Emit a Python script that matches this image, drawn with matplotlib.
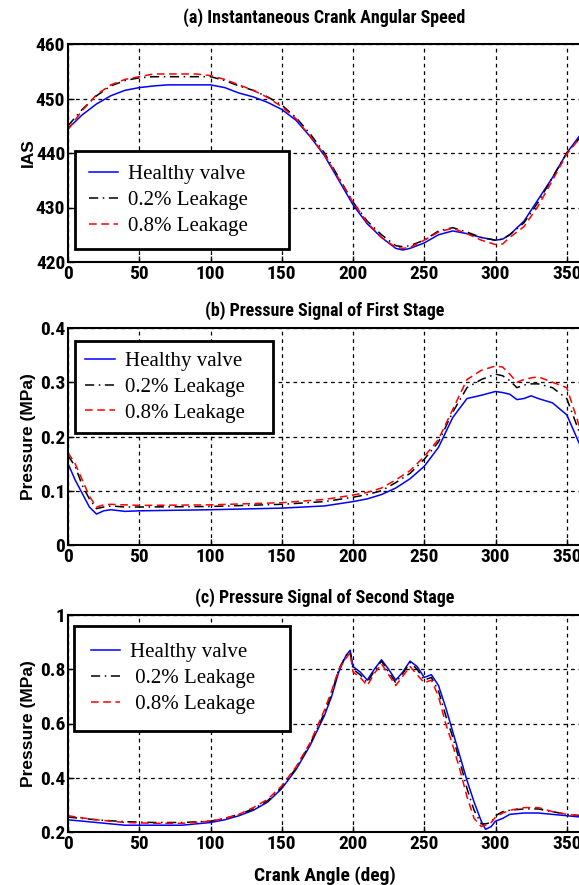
"""Crank IAS and cylinder pressure traces: healthy valve vs leakage."""

import matplotlib.pyplot as plt
from matplotlib import font_manager

# ---- data -----------------------------------------------------------------
ias_angle = [0, 10, 20, 30, 40, 50, 60, 70, 80, 90, 100, 110, 120, 130, 140,
             150, 160, 170, 180, 190, 200, 210, 220, 230, 235, 240, 250, 260,
             270, 280, 290, 300, 305, 310, 320, 330, 340, 350, 360]
ias_healthy = [444.5, 447.0, 449.0, 450.5, 451.5, 452.0, 452.3, 452.5, 452.5,
               452.5, 452.5, 452.0, 451.0, 450.3, 449.3, 448.0, 446.0, 443.0,
               439.5, 435.0, 430.5, 427.0, 424.5, 422.5, 422.2, 422.5, 423.5,
               425.0, 425.7, 425.2, 424.5, 424.0, 424.2, 425.0, 427.5, 431.5,
               435.5, 440.0, 443.5]
ias_leak02 = [445.0, 448.0, 450.5, 452.3, 453.3, 453.8, 454.0, 454.0, 454.0,
              454.0, 454.0, 453.3, 452.3, 451.5, 450.3, 448.8, 446.5, 443.5,
              440.0, 435.5, 431.0, 427.5, 425.0, 423.0, 422.8, 423.0, 424.0,
              425.7, 426.3, 425.5, 424.5, 424.0, 424.2, 425.0, 427.2, 431.0,
              435.5, 440.0, 443.0]
ias_leak08 = [444.3, 447.8, 450.7, 452.5, 453.5, 454.0, 454.5, 454.5, 454.5,
              454.5, 454.2, 453.5, 452.5, 451.5, 450.2, 448.5, 446.3, 443.0,
              439.7, 435.3, 431.0, 427.2, 424.5, 422.7, 422.5, 422.7, 424.0,
              425.5, 426.2, 425.2, 424.0, 423.2, 423.3, 424.5, 426.5, 430.3,
              435.0, 439.8, 443.0]

p1_angle = [0, 5, 10, 15, 20, 25, 30, 40, 50, 100, 150, 180, 200, 210, 220,
            230, 240, 250, 260, 270, 280, 290, 300, 305, 310, 315, 320, 325,
            330, 340, 350, 355, 360]
p1_healthy = [0.150, 0.120, 0.095, 0.070, 0.057, 0.063, 0.065, 0.062, 0.063,
              0.065, 0.068, 0.072, 0.080, 0.085, 0.093, 0.105, 0.122, 0.145,
              0.180, 0.235, 0.270, 0.276, 0.283, 0.281, 0.278, 0.268, 0.270,
              0.275, 0.270, 0.262, 0.240, 0.210, 0.180]
p1_leak02 = [0.165, 0.145, 0.110, 0.085, 0.067, 0.070, 0.072, 0.070, 0.070,
             0.071, 0.075, 0.080, 0.088, 0.093, 0.100, 0.115, 0.132, 0.158,
             0.190, 0.245, 0.290, 0.305, 0.315, 0.312, 0.303, 0.290, 0.295,
             0.297, 0.297, 0.290, 0.270, 0.235, 0.200]
p1_leak08 = [0.170, 0.150, 0.120, 0.090, 0.070, 0.074, 0.075, 0.074, 0.073,
             0.074, 0.078, 0.084, 0.092, 0.097, 0.105, 0.120, 0.137, 0.163,
             0.195, 0.250, 0.305, 0.322, 0.330, 0.328, 0.315, 0.300, 0.305,
             0.308, 0.310, 0.300, 0.290, 0.250, 0.210]

p2_angle = [0, 10, 20, 40, 60, 80, 100, 110, 120, 130, 140, 150, 160, 170,
            180, 185, 190, 195, 198, 200, 205, 210, 215, 220, 225, 230, 235,
            240, 245, 250, 255, 260, 265, 270, 275, 280, 285, 290, 293, 297,
            300, 305, 310, 320, 330, 340, 350, 360]
p2_healthy = [0.245, 0.240, 0.235, 0.225, 0.225, 0.225, 0.235, 0.245, 0.260,
              0.280, 0.310, 0.360, 0.430, 0.520, 0.630, 0.700, 0.790, 0.850,
              0.870, 0.810, 0.790, 0.760, 0.800, 0.835, 0.800, 0.760, 0.790,
              0.830, 0.810, 0.770, 0.780, 0.740, 0.660, 0.570, 0.480, 0.390,
              0.310, 0.240, 0.210, 0.220, 0.240, 0.250, 0.265, 0.270, 0.270,
              0.265, 0.260, 0.255]
p2_leak02 = [0.255, 0.250, 0.245, 0.238, 0.235, 0.235, 0.240, 0.250, 0.265,
             0.285, 0.315, 0.365, 0.435, 0.525, 0.640, 0.710, 0.800, 0.850,
             0.865, 0.800, 0.780, 0.750, 0.795, 0.830, 0.790, 0.750, 0.785,
             0.825, 0.800, 0.760, 0.770, 0.720, 0.630, 0.550, 0.460, 0.360,
             0.280, 0.230, 0.230, 0.235, 0.260, 0.275, 0.280, 0.285, 0.285,
             0.275, 0.265, 0.260]
p2_leak08 = [0.260, 0.252, 0.245, 0.235, 0.232, 0.232, 0.240, 0.250, 0.265,
             0.290, 0.320, 0.370, 0.440, 0.530, 0.650, 0.720, 0.800, 0.840,
             0.860, 0.790, 0.770, 0.740, 0.785, 0.820, 0.780, 0.740, 0.775,
             0.810, 0.780, 0.750, 0.760, 0.700, 0.600, 0.520, 0.430, 0.330,
             0.250, 0.220, 0.225, 0.235, 0.255, 0.270, 0.280, 0.290, 0.290,
             0.275, 0.265, 0.260]

labels_a = ["Healthy valve", "0.2% Leakage", "0.8% Leakage"]
labels_c = ["Healthy valve", " 0.2% Leakage", " 0.8% Leakage"]

x_ticks = [0, 50, 100, 150, 200, 250, 300, 350]


def pick_font(names, fallback):
    installed = {f.name for f in font_manager.fontManager.ttflist}
    for n in names:
        if n in installed:
            return n
    return fallback


NARROW = pick_font(["Liberation Sans Narrow", "Roboto Condensed"], "DejaVu Sans")
SANS = pick_font(["Liberation Sans", "Arial"], "DejaVu Sans")
SERIF = pick_font(["Liberation Serif", "Times New Roman"], "DejaVu Serif")


def style_axes(ax, title, title_pad, ylabel, ylim, yticks, yticklabels,
               labels, leg_box, leg_pad):
    ax.set_xlim(0, 360)
    ax.set_ylim(*ylim)
    ax.set_xticks(x_ticks)
    ax.set_yticks(yticks)
    ax.set_xticklabels([str(t) for t in x_ticks], family=NARROW,
                       fontweight="bold", fontsize=14)
    ax.set_yticklabels(yticklabels, family=NARROW, fontweight="bold",
                       fontsize=14)
    ax.tick_params(direction="in", length=4, width=1, pad=2)
    ax.grid(True, color="black", linestyle=(0, (3, 3)), linewidth=0.9)
    for s in ax.spines.values():
        s.set_linewidth(1.5)
    ax.set_title(title, family=NARROW, fontweight="bold", fontsize=13,
                 pad=title_pad)
    ax.set_ylabel(ylabel, family=SANS, fontweight="bold", fontsize=12.5)
    ax.yaxis.set_label_coords(-0.062, 0.5)
    # legend box spans a fixed width (as in the original figure)
    leg = ax.legend(labels, loc="upper left", bbox_to_anchor=leg_box,
                    mode="expand", prop={"family": SERIF, "size": 15},
                    fancybox=False, framealpha=1, edgecolor="black",
                    handlelength=1.4, handletextpad=0.5, borderpad=leg_pad,
                    labelspacing=0.3, borderaxespad=0)
    leg.get_frame().set_linewidth(2)


def draw(ax, x, healthy, leak02, leak08):
    ax.plot(x, healthy, color="blue", linestyle="-", linewidth=1.1)
    ax.plot(x, leak02, color="black", linestyle=(0, (6, 3, 1, 3)),
            linewidth=1.1)
    ax.plot(x, leak08, color="red", linestyle=(0, (5, 3)), linewidth=1.1)


def main() -> None:
    fig = plt.figure(figsize=(5.79, 8.85), dpi=100)
    left, width = 68 / 579, 513 / 579

    ax_a = fig.add_axes([left, 1 - 262 / 885, width, 218 / 885])
    draw(ax_a, ias_angle, ias_healthy, ias_leak02, ias_leak08)
    style_axes(ax_a, "(a) Instantaneous Crank Angular Speed", 15, "IAS",
               (420, 460), [420, 430, 440, 450, 460],
               ["420", "430", "440", "450", "460"], labels_a,
               (0.0136, 0.0, 0.417, 0.509), 0.65)

    ax_b = fig.add_axes([left, 1 - 545 / 885, width, 217 / 885])
    draw(ax_b, p1_angle, p1_healthy, p1_leak02, p1_leak08)
    style_axes(ax_b, "(b) Pressure Signal of First Stage", 9,
               "Pressure (MPa)", (0, 0.4), [0, 0.1, 0.2, 0.3, 0.4],
               ["0", "0.1", "0.2", "0.3", "0.4"], labels_a,
               (0.0136, 0.0, 0.386, 0.940), 0.5)

    ax_c = fig.add_axes([left, 1 - 832 / 885, width, 217 / 885])
    draw(ax_c, p2_angle, p2_healthy, p2_leak02, p2_leak08)
    style_axes(ax_c, "(c) Pressure Signal of Second Stage", 9,
               "Pressure (MPa)", (0.2, 1.0), [0.2, 0.4, 0.6, 0.8, 1.0],
               ["0.2", "0.4", "0.6", "0.8", "1"], labels_c,
               (0.0117, 0.0, 0.421, 0.949), 0.8)
    ax_c.set_xlabel("Crank Angle (deg)", family=NARROW, fontweight="bold",
                    fontsize=14, labelpad=10)

    fig.savefig("out.png", dpi=100)
    plt.close(fig)


if __name__ == "__main__":
    main()
